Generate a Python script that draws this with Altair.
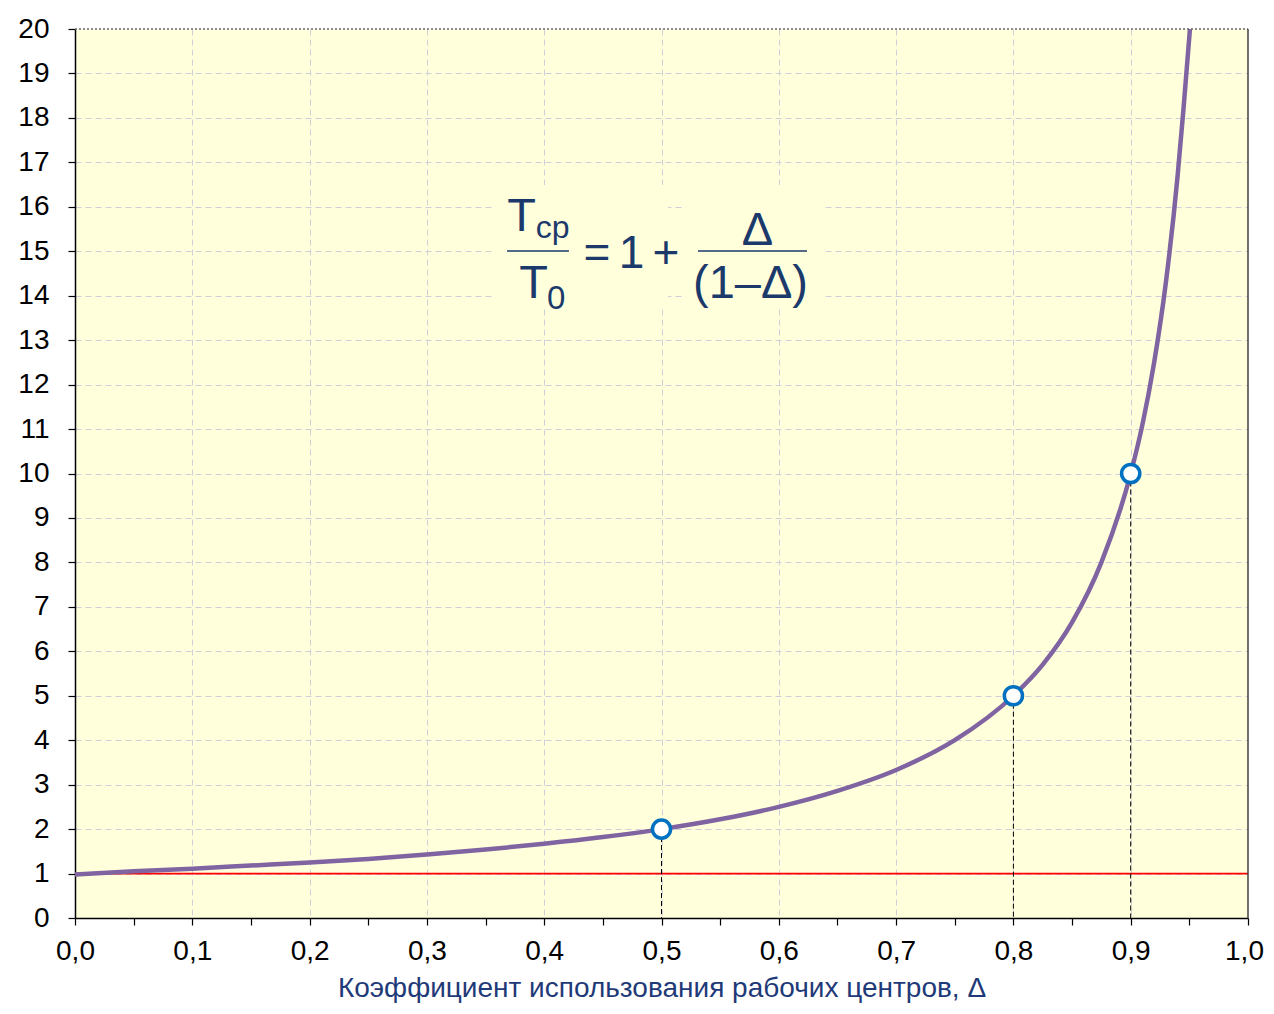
import altair as alt
import pandas as pd

# ---- data ----
curve_x = [0.0, 0.05, 0.1, 0.15, 0.2, 0.25, 0.3, 0.35, 0.4, 0.45, 0.5, 0.55, 0.6,
           0.65, 0.7, 0.75, 0.8, 0.825, 0.85, 0.875, 0.9, 0.91, 0.92, 0.93, 0.94,
           0.945, 0.9505]
curve_y = [0.98, 1.05, 1.11, 1.18, 1.25, 1.33, 1.43, 1.54, 1.67, 1.82, 2.0, 2.22, 2.5,
           2.86, 3.33, 4.0, 5.0, 5.7, 6.65, 8.0, 10.0, 11.1, 12.5, 14.3, 16.7,
           18.2, 20.0]
point_x = [0.5, 0.8, 0.9]
point_y = [2, 5, 10]
x_ticks = [round(i * 0.05, 2) for i in range(21)]
y_ticks = list(range(21))
x_title = "Коэффициент использования рабочих центров, Δ"

# formula annotation (positions in data units)
f_text = ["T", "ср", "T", "0", "=", "1", "+", "Δ", "(1–Δ)"]
f_x = [0.3807, 0.4071, 0.3909, 0.4101, 0.4450, 0.4744, 0.5038, 0.5818, 0.5759]
f_y = [15.456, 15.298, 13.948, 13.71, 14.623, 14.623, 14.623, 15.141, 13.948]
f_size = [47, 32, 47, 33, 46, 46, 46, 47, 47]
# fraction bars
bar_x = [0.3683, 0.5311]
bar_x2 = [0.4211, 0.6240]
bar_y = [15.005, 15.005]
# text boxes hiding the grid
box_x = [0.358, 0.518, 0.4476]
box_x2 = [0.5055, 0.638, 0.524]
box_y = [16.49, 16.49, 15.37]
box_y2 = [13.72, 13.72, 14.58]

FONT = "Liberation Sans, Arial, sans-serif"
NAVY = "#1B3A6B"
BG = "#FFFFDC"

curve_df = pd.DataFrame({"x": curve_x, "y": curve_y})
pts_df = pd.DataFrame({"x": point_x, "y": point_y, "y2": [0] * len(point_x)})
txt_df = pd.DataFrame({"text": f_text, "x": f_x, "y": f_y, "fs": f_size})
bar_df = pd.DataFrame({"x": bar_x, "x2": bar_x2, "y": bar_y})
box_df = pd.DataFrame({"x": box_x, "x2": box_x2, "y": box_y, "y2": box_y2})
red_df = pd.DataFrame({"x": [0.0], "x2": [1.0], "y": [1.0]})
top_df = pd.DataFrame({"x": [0.0], "x2": [1.0], "y": [20.0]})
right_df = pd.DataFrame({"x": [1.0], "y": [0.0], "y2": [20.0]})

xscale = alt.Scale(domain=[0, 1], nice=False, zero=False)
yscale = alt.Scale(domain=[0, 20], nice=False)

label_expr = "round(datum.value*20) % 2 == 0 ? replace(format(datum.value, '.1f'), '.', ',') : ''"

xaxis = alt.Axis(
    values=x_ticks,
    labelExpr=label_expr,
    title=x_title,
    grid=True,
    gridOpacity={"condition": {"test": "round(datum.value*20) % 2 == 0 && datum.value > 0.01 && datum.value < 0.99", "value": 1}, "value": 0},
    labelOffset={"condition": {"test": "datum.value > 0.99", "value": -4}, "value": 0},
    labelPadding=12,
    titlePadding=9,
    titleColor="#1F3A78",
    titleFontSize=28,
    titleFontWeight="normal",
    labelFlush=False,
    labelOverlap=False,
)
yaxis = alt.Axis(
    values=y_ticks,
    title=None,
    grid=True,
    gridOpacity={"condition": {"test": "datum.value > 0.5 && datum.value < 19.5", "value": 1}, "value": 0},
    labelPadding=19,
    labelFlush=False,
    labelOverlap=False,
)

X = alt.X("x:Q", scale=xscale, axis=xaxis)
Y = alt.Y("y:Q", scale=yscale, axis=yaxis)

boxes = alt.Chart(box_df).mark_rect(color=BG).encode(
    x=X, x2=alt.X2("x2:Q"), y=Y, y2=alt.Y2("y2:Q"))

red = alt.Chart(red_df).mark_rule(color="#FF0000", strokeWidth=1.8).encode(
    x=X, x2=alt.X2("x2:Q"), y=Y)

drops = alt.Chart(pts_df).mark_rule(color="#000000", strokeWidth=1, strokeDash=[5, 3]).encode(
    x=X, y=Y, y2=alt.Y2("y2:Q"))

curve = alt.Chart(curve_df).mark_line(
    color="#8064A2", strokeWidth=4.5, interpolate="monotone", clip=True
).encode(x=X, y=Y)

points = alt.Chart(pts_df).mark_point(
    shape="circle", filled=False, fill="white", fillOpacity=1,
    stroke="#0070C0", strokeWidth=3.5, size=330, opacity=1
).encode(x=X, y=Y)

bars = alt.Chart(bar_df).mark_rule(color=NAVY, strokeWidth=1.5).encode(
    x=X, x2=alt.X2("x2:Q"), y=Y)

texts = alt.Chart(txt_df).mark_text(
    font=FONT, color=NAVY, align="center", baseline="alphabetic"
).encode(x=X, y=Y, text="text:N", size=alt.Size("fs:Q", scale=None))

top = alt.Chart(top_df).mark_rule(color="#666666", strokeWidth=1.5, strokeDash=[2, 2]).encode(
    x=X, x2=alt.X2("x2:Q"), y=Y)
right = alt.Chart(right_df).mark_rule(color="#404040", strokeWidth=1.5).encode(
    x=X, y=Y, y2=alt.Y2("y2:Q"))

chart = alt.layer(
    boxes, red, drops, curve, points, bars, texts, top, right
).properties(
    width=1173,
    height=889,
    autosize=alt.AutoSizeParams(type="none"),
    padding={"left": 67, "top": 21, "right": 18, "bottom": 85},
    background="white",
).configure_view(
    fill=BG, stroke="transparent"
).configure_axis(
    labelFont=FONT,
    titleFont=FONT,
    labelFontSize=28,
    labelColor="#000000",
    tickColor="#000000",
    tickSize=7,
    tickWidth=1.2,
    domainColor="#000000",
    domainWidth=1.5,
    gridColor="#CFCFDA",
    gridDash=[6, 4],
    gridWidth=1,
)

chart.save("out.html", embed_options={"renderer": "svg", "actions": False})
